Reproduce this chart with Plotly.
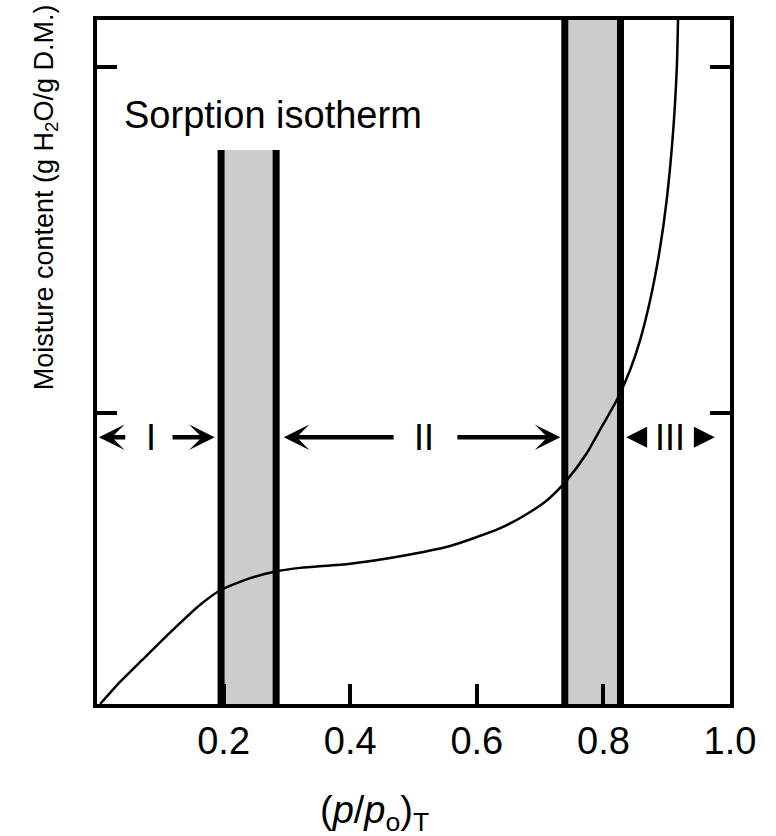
import plotly.graph_objects as go

# ---- data ----
# sorption isotherm curve (relative vapour pressure vs relative moisture content)
aw = [0.005, 0.036, 0.071, 0.115, 0.163, 0.196, 0.242, 0.284, 0.321, 0.400, 0.479,
      0.558, 0.597, 0.637, 0.676, 0.711, 0.742, 0.774, 0.799, 0.821, 0.842, 0.858,
      0.874, 0.889, 0.900, 0.910, 0.916, 0.918]
moisture = [0.0, 0.032, 0.064, 0.104, 0.145, 0.167, 0.184, 0.194, 0.199, 0.205, 0.216,
            0.231, 0.243, 0.257, 0.276, 0.298, 0.327, 0.367, 0.408, 0.444, 0.488, 0.532,
            0.591, 0.664, 0.737, 0.835, 0.931, 1.004]

# shaded transition bands: (left, right, top)
band_left = [0.196, 0.739]
band_right = [0.283, 0.827]
band_top = [0.810, 1.0]

region_labels = ["I", "II", "III"]

x_ticks = [0.2, 0.4, 0.6, 0.8, 1.0]
x_tick_text = ["0.2", "0.4", "0.6", "0.8", "1.0"]
y_ticks = [0.425, 0.931]

FONT = "Liberation Sans, Arial, Helvetica, sans-serif"

fig = go.Figure()

# bands
shapes = []
for l, r, t in zip(band_left, band_right, band_top):
    shapes.append(dict(type="rect", xref="x", yref="y", x0=l, x1=r, y0=0, y1=t,
                       fillcolor="#cccccc", line=dict(width=0), layer="below"))
    for xv in (l, r):
        shapes.append(dict(type="line", xref="x", yref="y", x0=xv, x1=xv, y0=0, y1=t,
                           line=dict(color="black", width=7), layer="below"))

fig.add_trace(go.Scatter(x=aw, y=moisture, mode="lines",
                         line=dict(color="black", width=2.5, shape="spline", smoothing=0.6),
                         hoverinfo="skip", showlegend=False))

# region arrows
arrow_y = 0.390
gap = 0.007
annotations = []

def arrow(tip, tail, head=3, size=0.95, width=4.5):
    annotations.append(dict(x=tip, y=arrow_y, ax=tail, ay=arrow_y, xref="x", yref="y",
                            axref="x", ayref="y", text="", showarrow=True,
                            arrowhead=head, arrowsize=size, arrowwidth=width,
                            arrowcolor="black"))

# region I: 0 -> band1 left
r1_l, r1_r = 0.0 + 0.003, band_left[0] - gap - 0.003
r1_c = 0.085
arrow(r1_l, r1_c - 0.038)
arrow(r1_r, r1_c + 0.032)
# region II: band1 right -> band2 left
r2_l, r2_r = band_right[0] + gap + 0.005, band_left[1] - gap
r2_c = 0.517
arrow(r2_l, r2_c - 0.046)
arrow(r2_r, r2_c + 0.050)
# region III: band2 right -> 1.0
r3_l, r3_r = band_right[1] + gap + 0.002, 0.976
r3_c = 0.905
arrow(r3_l, r3_l + 0.025, head=2, size=0.93, width=4.5)
arrow(r3_r, r3_r - 0.025, head=2, size=0.93, width=4.5)

for lab, cx in zip(region_labels, [r1_c, r2_c, r3_c]):
    annotations.append(dict(x=cx, y=arrow_y, xref="x", yref="y", text=lab, showarrow=False,
                            font=dict(family=FONT, size=36, color="black"),
                            xanchor="center", yanchor="middle"))

annotations.append(dict(x=0.0395, y=0.861, xref="x", yref="y", text="Sorption isotherm",
                        showarrow=False, xanchor="left", yanchor="middle",
                        font=dict(family=FONT, size=38, color="black")))

annotations.append(dict(x=-0.0806, y=0.741, xref="paper", yref="paper",
                        text="Moisture content (g H<sub>2</sub>O/g D.M.)",
                        textangle=-90, showarrow=False, xanchor="center", yanchor="middle",
                        font=dict(family=FONT, size=27, color="black")))

annotations.append(dict(x=0.439, y=-0.159, xref="paper", yref="paper",
                        text="(<i>p</i>/<i>p</i><sub>o</sub>)<sub>T</sub>",
                        showarrow=False, xanchor="center", yanchor="middle",
                        font=dict(family=FONT, size=38, color="black")))

fig.update_layout(
    width=776, height=836,
    margin=dict(l=97, r=46, t=20, b=132, pad=0),
    plot_bgcolor="white", paper_bgcolor="white",
    shapes=shapes, annotations=annotations,
    xaxis=dict(range=[0, 1], tickvals=x_ticks, ticktext=x_tick_text,
               showgrid=False, zeroline=False, showline=True, linecolor="black",
               linewidth=4, mirror=True, ticks="inside", ticklen=20, tickwidth=3.5,
               tickcolor="black", tickfont=dict(family=FONT, size=38, color="black")),
    yaxis=dict(range=[0, 1], tickvals=y_ticks, showticklabels=False,
               showgrid=False, zeroline=False, showline=True, linecolor="black",
               linewidth=4, mirror="ticks", ticks="inside", ticklen=20, tickwidth=3.5,
               tickcolor="black"),
)

fig.write_html("out.html")
